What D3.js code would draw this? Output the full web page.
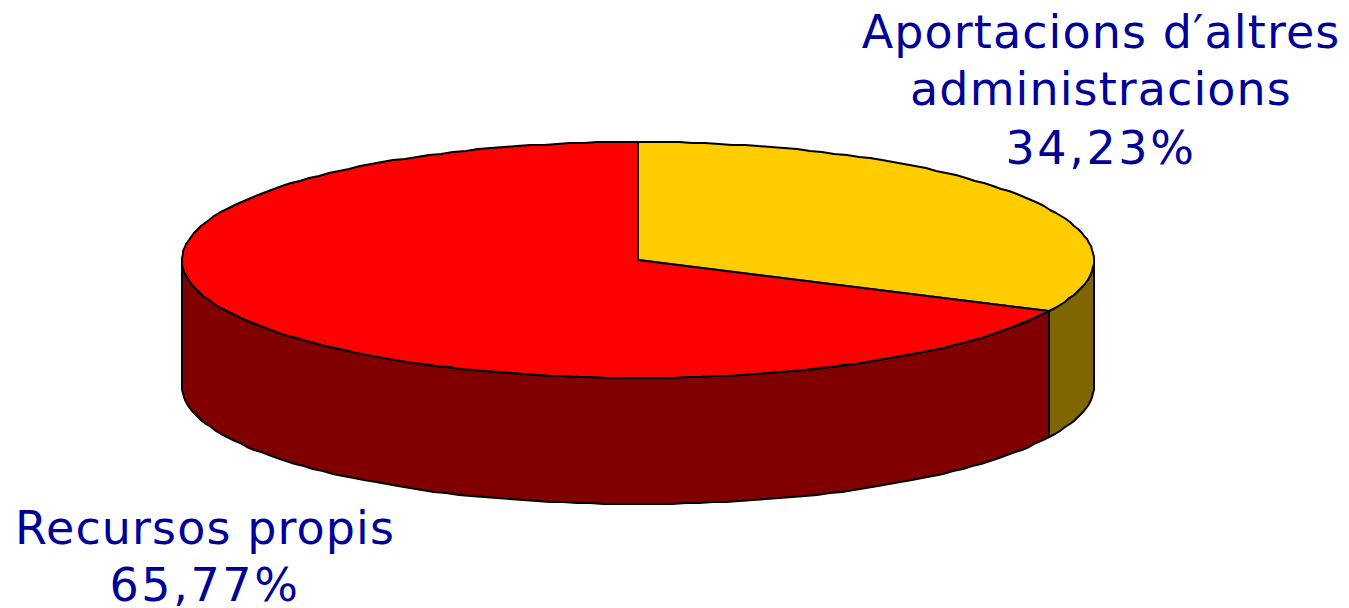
<!DOCTYPE html>
<html>
<head>
<meta charset="utf-8">
<script src="https://cdn.jsdelivr.net/npm/d3@7"></script>
<style>
  html, body { margin: 0; padding: 0; background: #fff; overflow: hidden; }
  text { font-family: "DejaVu Sans", sans-serif; font-size: 46px; fill: #000099; text-anchor: middle; letter-spacing: 1.1px; }
  text.pct { letter-spacing: 2.6px; }
</style>
</head>
<body>
<div id="chart"></div>
<script>
// data
var categories = ["Aportacions d'altres administracions", "Recursos propis"];
var values = [34.23, 65.77];
var labelLines = [
  ["Aportacions d\u2032altres", "administracions", "34,23%"],
  ["Recursos propis", "65,77%"]
];
var topColors = ["#ffcc00", "#ff0000"];
var sideColors = ["#806600", "#800000"];

var svgWidth = 1349;
var svgHeight = 608;

var svg = d3.select("#chart")
    .append("svg")
    .attr("width", svgWidth)
    .attr("height", svgHeight)
    .style("display", "block");

// the disc is an ellipse, these scales map the unit circle onto it
var xScale = d3.scaleLinear().domain([-1, 1]).range([182, 1094]);
var yScale = d3.scaleLinear().domain([-1, 1]).range([142, 378]);
var depth = 126;

// the original has a perspective view, so slices near the viewer look a bit narrower
var perspective = 0.86;
function warp(a) {
    if (Math.abs(a - Math.PI) < 1e-6) return a;
    var turns = Math.floor((a + Math.PI) / (2 * Math.PI));
    var r = a - turns * 2 * Math.PI;
    return 2 * Math.atan(perspective * Math.tan(r / 2)) + turns * 2 * Math.PI;
}

var pie = d3.pie().sort(null).value(d => d);
var arcs = pie(values);

// whole pixels only, which gives the slightly rough outline of the reference
function px(t) { return Math.round(xScale(Math.sin(t))); }
function py(t) { return Math.round(yScale(-Math.cos(t))); }

function rim(a0, a1) {
    var n = Math.max(2, Math.ceil(Math.abs(a1 - a0) / 0.03));
    return d3.range(n + 1).map(function(i) {
        var t = a0 + (a1 - a0) * i / n;
        return [px(t), py(t)];
    });
}

var line = d3.line();

// side walls, only the front half of the rim can be seen
var sides = arcs.map(function(d, i) {
    var a0 = Math.max(warp(d.startAngle), Math.PI / 2);
    var a1 = Math.min(warp(d.endAngle), 3 * Math.PI / 2);
    var top = rim(a0, a1);
    var bottom = top.slice().reverse().map(p => [p[0], p[1] + depth]);
    return { color: sideColors[i], points: top.concat(bottom) };
});

svg.selectAll("path.side")
    .data(sides)
    .enter()
    .append("path")
    .attr("class", "side")
    .attr("d", d => line(d.points) + "Z")
    .attr("fill", d => d.color)
    .attr("stroke", "#000")
    .attr("stroke-width", 2)
    .attr("stroke-linejoin", "round");

// top of the disc
var center = [xScale(0), yScale(0)];

svg.selectAll("path.slice")
    .data(arcs)
    .enter()
    .append("path")
    .attr("class", "slice")
    .attr("d", d => line([center].concat(rim(warp(d.startAngle), warp(d.endAngle)))) + "Z")
    .attr("fill", (d, i) => topColors[i])
    .attr("stroke", "#000")
    .attr("stroke-width", 2)
    .attr("stroke-linejoin", "round");

// labels
var labelPos = [
  { x: 1101, y: [48, 105, 164] },
  { x: 205, y: [544, 601] }
];

labelLines.forEach(function(lines, i) {
    svg.append("g")
      .attr("class", "label")
      .selectAll("text")
      .data(lines)
      .enter()
      .append("text")
      .attr("class", d => d.endsWith("%") ? "pct" : null)
      .attr("x", labelPos[i].x)
      .attr("y", (d, j) => labelPos[i].y[j])
      .text(d => d);
});
</script>
</body>
</html>
